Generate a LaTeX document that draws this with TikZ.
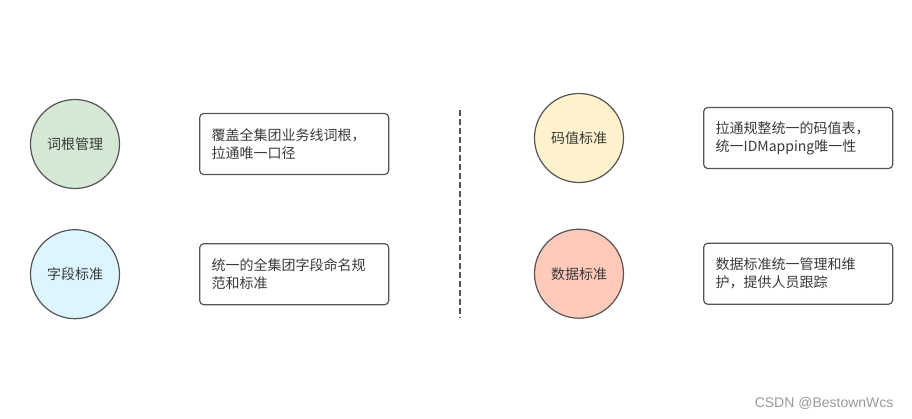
\documentclass[tikz,border=0pt]{standalone}
\usepackage{fontspec}
\newfontfamily\cjk{Noto Sans CJK SC}
\newfontfamily\markfont{Liberation Sans}
\usetikzlibrary{positioning}

\definecolor{linegray}{HTML}{555555}
\definecolor{txtgray}{HTML}{3A3A3A}
\definecolor{rootgreen}{HTML}{D5E8D4}
\definecolor{fieldblue}{HTML}{DDF5FF}
\definecolor{codeyellow}{HTML}{FFF2CC}
\definecolor{datared}{HTML}{FFCABA}

\begin{document}
\begin{tikzpicture}[x=1pt,y=-1pt,thin,node distance=40pt and 79pt,
    font=\cjk\fontsize{14}{18}\selectfont,text=txtgray,
    std/.style={circle,draw=linegray,line width=1.2pt,minimum size=89pt,inner sep=0pt},
    note/.style={draw=linegray,line width=1.2pt,rounded corners=4pt,text width=165pt,
      minimum height=61pt,inner xsep=12pt,align=left}]

\useasboundingbox (0,0) rectangle (912,418);

% left half
\node [std, fill=rootgreen] (root) at (75,144) {词根管理};
\node [note] (root-note) [right=of root] {覆盖全集团业务线词根，\\拉通唯一口径};

\node [std, fill=fieldblue] (field) [below=of root] {字段标准};
\node [note] (field-note) [right=of field] {统一的全集团字段命名规\\范和标准};

% divider
\coordinate (cut-top) at (460,110);
\coordinate (cut-bot) at (460,318);
\draw [linegray, line width=1.2pt, dash pattern=on 6pt off 3pt] (cut-top) -- (cut-bot);

% right half
\node [std, fill=codeyellow] (code) at (579,138) {码值标准};
\node [note] (code-note) [right=of code] {拉通规整统一的码值表，\\统一IDMapping唯一性};

\node [std, fill=datared] (data) [below=45.5pt of code] {数据标准};
\node [note] (data-note) [right=of data] {数据标准统一管理和维\\护，提供人员跟踪};

\node [anchor=east, font=\markfont\fontsize{14}{16}\selectfont, text=black!40] (mark) at (897,403) {CSDN @BestownWcs};

\end{tikzpicture}
\end{document}
